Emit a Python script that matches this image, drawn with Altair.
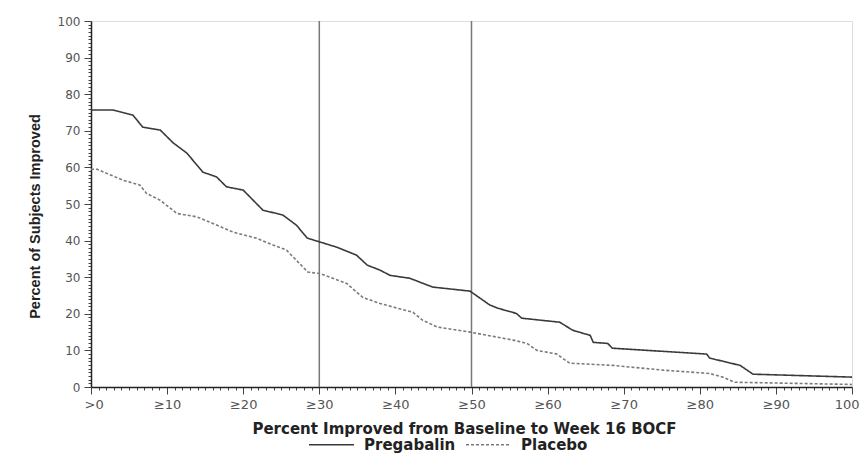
import altair as alt
import pandas as pd

# Pregabalin (solid)
preg_x = [0, 2.9, 5.5, 6.8, 9.1, 10.8, 12.6, 14.7, 16.5, 17.8, 20, 22.6, 25.2, 26.1, 27, 28.4,
          30.1, 32.3, 34.9, 36.3, 38, 39.3, 41.9, 44.9, 49.8, 52.4, 53.5, 55.9, 56.6, 61.6, 63.3,
          65.6, 66, 67.9, 68.5, 80.9, 81.3, 85.3, 87, 100]
preg_y = [75.7, 75.7, 74.3, 71, 70.2, 66.7, 63.9, 58.7, 57.4, 54.7, 53.8, 48.3, 47, 45.6, 44.2, 40.7,
          39.6, 38.2, 36, 33.3, 31.9, 30.5, 29.7, 27.3, 26.2, 22.4, 21.5, 20.1, 18.8, 17.7, 15.5,
          14.1, 12.2, 11.9, 10.6, 9.0, 7.9, 5.9, 3.5, 2.7]

# Placebo (dashed)
plac_x = [0, 0.8, 4.2, 6.4, 7.3, 9.1, 11.3, 13.9, 16, 18.7, 21.8, 23.9, 25.7, 26.1, 28.5, 30.1,
          33.6, 35.7, 38, 42.3, 43.6, 45.5, 49.8, 55.5, 57.3, 58.6, 61.2, 62.9, 68.6, 75.2, 81.3,
          83, 84.6, 100]
plac_y = [59.5, 59.5, 56.5, 55.2, 52.9, 51, 47.4, 46.5, 44.7, 42.3, 40.6, 38.8, 37.4, 36.5, 31.4, 31,
          28.3, 24.5, 22.8, 20.4, 18.2, 16.4, 15, 12.8, 11.9, 10, 9, 6.5, 5.9, 4.6, 3.7,
          2.7, 1.3, 0.7]

ref_lines = [30, 50]
series = ["Pregabalin", "Placebo"]

df = pd.concat([
    pd.DataFrame({"x": preg_x, "y": preg_y, "group": series[0], "order": range(len(preg_x))}),
    pd.DataFrame({"x": plac_x, "y": plac_y, "group": series[1], "order": range(len(plac_x))}),
])
ref_df = pd.DataFrame({"x": ref_lines})

x_scale = alt.Scale(domain=[0, 100], nice=False, zero=False)
y_scale = alt.Scale(domain=[0, 100], nice=False)

tick_size = {"condition": {"test": "datum.value % 10 === 0", "value": 7}, "value": 3}

x_axis = alt.Axis(
    values=list(range(0, 101)),
    labelExpr="datum.value == 0 ? '>0' : datum.value == 100 ? '100' : (datum.value % 10 == 0 ? '≥' + datum.value : '')",
    labelOverlap=False,
    labelFlush=True, labelFlushOffset=7,
    labelFont="DejaVu Sans", labelFontSize=13, labelColor="#555",
    labelPadding=4,
    tickSize=tick_size, tickColor="#444", tickWidth=1,
    domainColor="#222", domainWidth=1.5,
    grid=False,
    title="Percent Improved from Baseline to Week 16 BOCF",
    titleFont="DejaVu Sans", titleFontSize=15, titleFontWeight="bold", titleColor="#222",
    titleX=373, titleY=46, titleBaseline="alphabetic", titleAlign="center",
)
y_axis = alt.Axis(
    values=list(range(0, 101)),
    labelExpr="datum.value % 10 == 0 ? datum.value : ''",
    labelOverlap=False,
    labelFont="DejaVu Sans", labelFontSize=12, labelColor="#555",
    labelPadding=4,
    tickSize=tick_size, tickColor="#444", tickWidth=1,
    domainColor="#222", domainWidth=1.5,
    grid=False,
    title="Percent of Subjects Improved",
    titleFont="Liberation Sans", titleFontSize=14.5, titleFontWeight="bold", titleColor="#222",
    titleX=-56, titleY=195, titleBaseline="middle", titleAlign="center", titleAngle=270,
)

rules = alt.Chart(ref_df).mark_rule(color="#777", strokeWidth=1.5).encode(
    x=alt.X("x:Q", scale=x_scale, axis=x_axis)
)

lines = alt.Chart(df).mark_line(strokeWidth=1.6).encode(
    x=alt.X("x:Q", scale=x_scale, axis=x_axis),
    y=alt.Y("y:Q", scale=y_scale, axis=y_axis),
    order="order:Q",
    color=alt.Color("group:N", scale=alt.Scale(domain=series, range=["#3a3a3a", "#7a7a7a"]),
                    legend=alt.Legend(
                        orient="none", legendX=217, legendY=400, direction="horizontal",
                        title=None, symbolType="stroke", symbolSize=2025, symbolStrokeWidth=1.5,
                        labelFont="DejaVu Sans", labelFontSize=15, labelFontWeight="bold",
                        labelColor="#222", labelOffset=9, columnPadding=7,
                    )),
    strokeDash=alt.StrokeDash("group:N", scale=alt.Scale(domain=series, range=[[1, 0], [3, 2]]),
                              legend=None),
)

chart = alt.layer(rules, lines).properties(
    width=761, height=366,
    autosize=alt.AutoSizeParams(type="none"),
    padding={"left": 83, "top": 13, "right": 7, "bottom": 70},
).configure_view(stroke="#555", strokeWidth=1.5).configure(background="white")

chart.save("out.html", embed_options={"renderer": "svg", "actions": False})
